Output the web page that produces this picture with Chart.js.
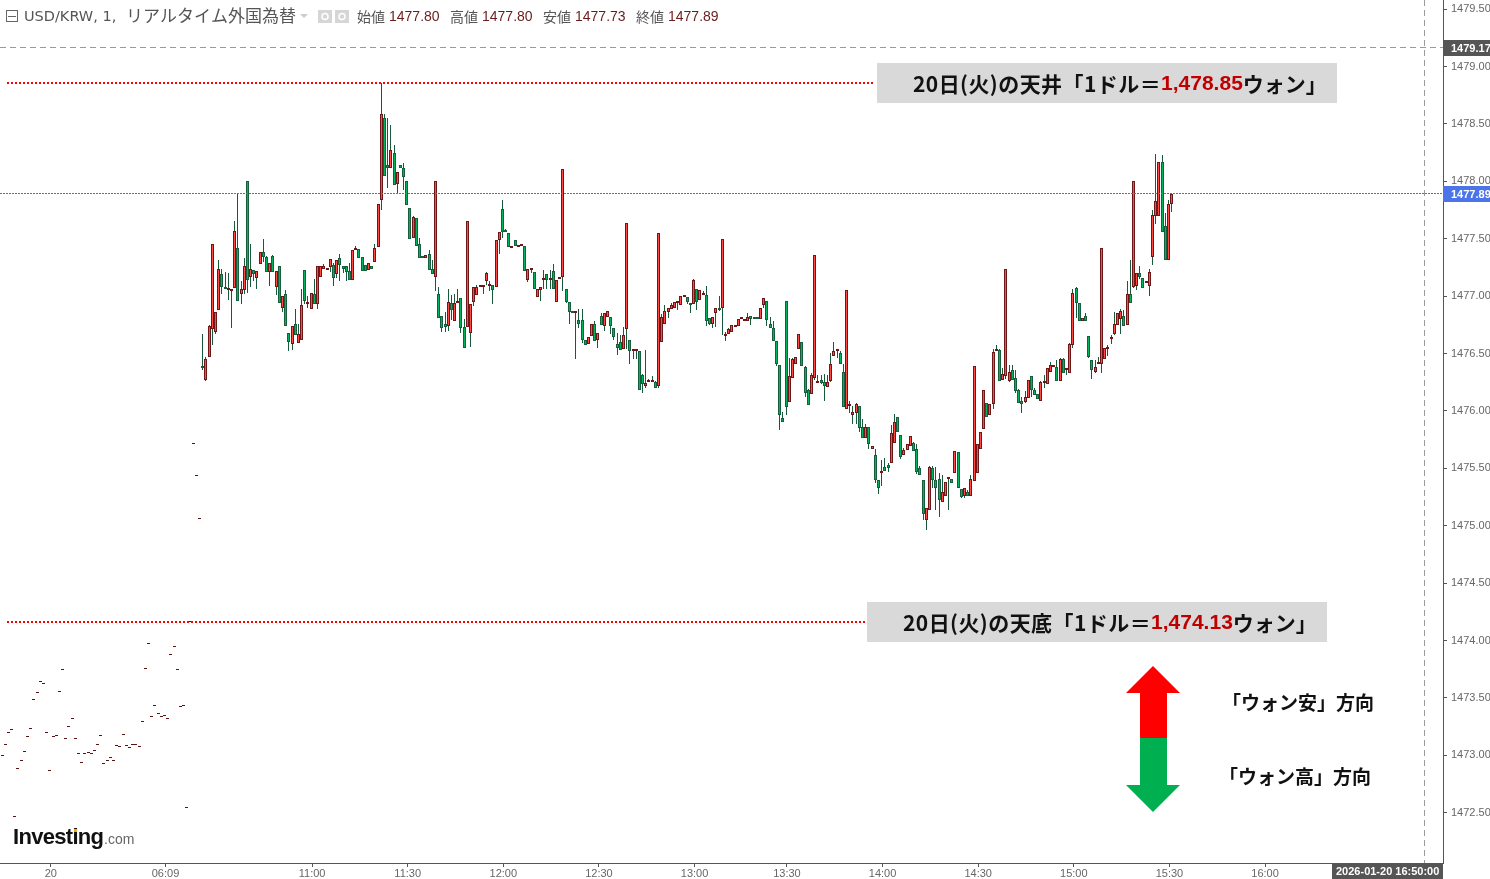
<!DOCTYPE html>
<html>
<head>
<meta charset="utf-8">
<title>USD/KRW</title>
<script src="https://cdn.jsdelivr.net/npm/chart.js@4"></script>
<style>
  html, body { margin: 0; padding: 0; background: #fff; }
  canvas { display: block; }
</style>
</head>
<body>
<canvas id="out" width="1490" height="879"></canvas>
<script>
// sparse quotes before the session really starts, one tick each
const preClose = [
  1472.99,1473.09,1473.19,1473.22,1472.46,1472.88,1472.95,1473.03,1473.16,1473.23,
  1473.48,1473.54,1473.64,1473.62,1473.19,1472.86,1473.16,1473.17,1473.55,1473.74,
  1473.14,1473.25,1473.32,1473.14,1473.01,1472.93,1473.01,1473.02,1473.01,1473.04,
  1473.09,1473.17,1472.92,1472.95,1472.98,1472.95,1473.08,1473.07,1473.18,1473.08,
  1473.06,1473.09,1473.09,1473.07,1473.29,1473.75,1473.97,1473.33,1473.43,1473.36,
  1473.33,1473.34,1473.32,1473.87,1473.94,1473.74,1473.42,1473.43,1472.54,1474.16,
  1475.71,1475.43,1475.06
];

const open = [
  1476.38,1476.27,1476.47,1476.71,1476.69,1476.88,1477.19,1477.08,1477.05,1477.04,
  1477.07,1477.42,1477.02,1477.05,1478.00,1477.17,1477.23,1477.16,1477.28,1477.38,
  1477.34,1477.21,1477.35,1477.08,1477.26,1476.90,1477.02,1476.68,1476.58,1476.76,
  1476.59,1476.62,1477.23,1476.93,1476.89,1477.02,1476.93,1477.17,1477.24,1477.23,
  1477.25,1477.27,1477.19,1477.33,1477.26,1477.26,1477.22,1477.14,1477.40,1477.41,
  1477.34,1477.27,1477.23,1477.26,1477.30,1477.43,1477.84,1478.55,1478.14,1478.12,
  1478.25,1477.98,1478.14,1478.12,1478.00,1477.77,1477.51,1477.68,1477.45,1477.35,
  1477.33,1477.37,1477.24,1477.17,1477.02,1476.83,1476.76,1476.74,1476.94,1476.78,
  1476.94,1476.98,1476.73,1476.73,1476.68,1476.95,1477.01,1477.08,1477.08,1477.13,
  1477.09,1477.10,1477.08,1477.49,1477.76,1477.57,1477.55,1477.42,1477.49,1477.43,
  1477.44,1477.44,1477.14,1477.23,1477.21,1476.99,1477.05,1477.14,1477.19,1477.14,
  1477.22,1476.95,1477.15,1477.17,1477.06,1476.95,1476.86,1476.85,1476.79,1476.79,
  1476.62,1476.58,1476.65,1476.76,1476.62,1476.83,1476.74,1476.82,1476.82,1476.72,
  1476.58,1476.60,1476.54,1476.71,1476.62,1476.52,1476.52,1476.52,1476.31,1476.22,
  1476.25,1476.25,1476.25,1476.22,1476.60,1476.76,1476.86,1476.89,1476.90,1476.94,
  1476.92,1476.99,1476.99,1476.93,1476.93,1477.06,1476.97,1477.01,1477.01,1476.81,
  1476.76,1476.85,1476.90,1476.90,1476.65,1476.67,1476.69,1476.73,1476.74,1476.80,
  1476.78,1476.78,1476.83,1476.81,1476.81,1476.80,1476.92,1476.96,1476.76,1476.72,
  1476.61,1476.40,1475.94,1476.96,1476.08,1476.29,1476.41,1476.54,1476.60,1476.38,
  1476.18,1476.15,1476.29,1476.24,1476.27,1476.25,1476.21,1476.26,1476.48,1476.52,
  1476.50,1476.34,1476.02,1476.04,1475.96,1475.98,1476.04,1475.86,1475.76,1475.86,
  1475.67,1475.62,1475.40,1475.46,1475.51,1475.53,1475.55,1475.72,1475.95,1475.79,
  1475.62,1475.66,1475.69,1475.72,1475.67,1475.50,1475.40,1475.05,1475.14,1475.50,
  1475.40,1475.41,1475.21,1475.26,1475.41,1475.41,1475.46,1475.64,1475.32,1475.26,
  1475.29,1475.26,1475.39,1475.46,1475.67,1475.84,1476.07,1475.96,1476.06,1476.52,
  1476.53,1476.27,1476.30,1476.26,1476.36,1476.29,1476.18,1476.09,1476.08,1476.11,
  1476.30,1476.18,1476.15,1476.09,1476.24,1476.23,1476.34,1476.38,1476.38,1476.26,
  1476.45,1476.36,1476.33,1476.57,1477.07,1476.94,1476.78,1476.83,1476.65,1476.44,
  1476.34,1476.41,1476.41,1476.45,1476.54,1476.63,1476.67,1476.75,1476.80,1476.83,
  1476.75,1477.02,1477.08,1477.09,1477.20,1477.16,1477.11,1477.09,1477.34,1477.70,
  1477.70,1478.17,1477.61,1477.31,1477.80
];

const high = [
  1476.67,1476.47,1476.75,1477.45,1476.86,1477.31,1477.24,1477.21,1477.20,1477.05,
  1477.65,1477.89,1477.13,1477.33,1478.00,1477.45,1477.23,1477.22,1477.38,1477.50,
  1477.35,1477.29,1477.36,1477.22,1477.26,1477.00,1477.05,1476.68,1476.74,1476.89,
  1476.76,1477.06,1477.23,1477.00,1477.03,1477.15,1477.26,1477.26,1477.28,1477.24,
  1477.32,1477.29,1477.31,1477.37,1477.26,1477.26,1477.29,1477.40,1477.44,1477.41,
  1477.34,1477.27,1477.29,1477.26,1477.45,1477.80,1478.86,1478.59,1478.55,1478.49,
  1478.32,1478.08,1478.14,1478.16,1478.00,1477.77,1477.70,1477.68,1477.51,1477.35,
  1477.36,1477.40,1477.31,1478.00,1477.08,1476.83,1476.86,1477.06,1477.01,1477.02,
  1477.06,1476.98,1476.80,1477.65,1476.93,1477.08,1477.10,1477.09,1477.10,1477.21,
  1477.13,1477.10,1477.49,1477.56,1477.84,1477.58,1477.55,1477.43,1477.49,1477.44,
  1477.45,1477.44,1477.24,1477.24,1477.21,1477.06,1477.08,1477.23,1477.19,1477.23,
  1477.28,1477.14,1477.16,1478.11,1477.06,1476.95,1476.86,1476.86,1476.89,1476.89,
  1476.62,1476.64,1476.76,1476.78,1476.68,1476.85,1476.85,1476.87,1476.82,1476.72,
  1476.68,1476.66,1476.73,1477.64,1476.62,1476.53,1476.53,1476.52,1476.32,1476.53,
  1476.28,1476.30,1476.26,1477.55,1476.84,1476.92,1476.90,1476.94,1476.95,1476.95,
  1477.00,1477.00,1476.99,1476.93,1477.15,1477.06,1477.05,1477.04,1477.09,1476.81,
  1476.82,1476.90,1477.00,1477.50,1476.69,1476.72,1476.75,1476.74,1476.80,1476.81,
  1476.79,1476.85,1476.83,1476.81,1476.81,1476.90,1476.98,1476.96,1476.82,1476.78,
  1476.61,1476.40,1475.99,1476.96,1476.46,1476.46,1476.47,1476.67,1476.60,1476.39,
  1476.19,1476.33,1477.36,1476.31,1476.31,1476.32,1476.31,1476.50,1476.60,1476.53,
  1476.52,1476.41,1477.05,1476.09,1476.04,1476.07,1476.04,1475.93,1475.89,1475.86,
  1475.69,1475.67,1475.40,1475.57,1475.59,1475.55,1475.88,1475.97,1475.95,1475.79,
  1475.68,1475.71,1475.78,1475.73,1475.71,1475.52,1475.40,1475.15,1475.52,1475.52,
  1475.51,1475.46,1475.44,1475.38,1475.42,1475.41,1475.65,1475.64,1475.32,1475.33,
  1475.31,1475.44,1476.39,1475.71,1475.82,1476.18,1476.07,1476.06,1476.54,1476.57,
  1476.54,1476.37,1477.24,1476.40,1476.40,1476.36,1476.19,1476.12,1476.17,1476.27,
  1476.30,1476.20,1476.15,1476.26,1476.31,1476.37,1476.43,1476.40,1476.44,1476.46,
  1476.46,1476.37,1476.59,1477.06,1477.08,1476.94,1476.81,1476.85,1476.65,1476.44,
  1476.44,1476.47,1477.42,1476.55,1476.57,1476.66,1476.86,1476.85,1476.89,1476.88,
  1477.13,1477.31,1478.00,1477.20,1477.26,1477.16,1477.12,1477.24,1477.75,1478.24,
  1478.17,1478.23,1477.72,1477.84,1477.89
];

const low = [
  1476.36,1476.26,1476.47,1476.57,1476.67,1476.88,1477.02,1477.06,1476.97,1476.72,
  1477.07,1476.96,1476.93,1477.02,1477.03,1477.08,1477.13,1477.06,1477.28,1477.30,
  1477.21,1477.09,1477.21,1477.01,1476.94,1476.86,1476.74,1476.52,1476.53,1476.66,
  1476.59,1476.62,1476.93,1476.90,1476.89,1476.93,1476.89,1477.17,1477.24,1477.23,
  1477.21,1477.09,1477.16,1477.13,1477.20,1477.13,1477.14,1477.14,1477.40,1477.33,
  1477.22,1477.22,1477.23,1477.24,1477.30,1477.43,1477.75,1478.05,1477.94,1478.12,
  1477.97,1477.90,1478.12,1477.92,1477.79,1477.50,1477.51,1477.44,1477.33,1477.33,
  1477.33,1477.23,1477.19,1477.04,1476.81,1476.69,1476.69,1476.70,1476.79,1476.78,
  1476.94,1476.68,1476.55,1476.73,1476.56,1476.91,1477.01,1477.08,1477.02,1477.10,
  1477.04,1476.93,1477.08,1477.37,1477.51,1477.56,1477.43,1477.42,1477.44,1477.43,
  1477.44,1477.22,1477.12,1477.20,1477.06,1476.99,1476.96,1477.06,1477.06,1477.06,
  1477.06,1476.95,1477.15,1477.04,1476.94,1476.76,1476.85,1476.45,1476.72,1476.59,
  1476.57,1476.58,1476.65,1476.61,1476.55,1476.75,1476.70,1476.82,1476.67,1476.62,
  1476.49,1476.53,1476.54,1476.54,1476.41,1476.45,1476.45,1476.18,1476.16,1476.20,
  1476.25,1476.25,1476.20,1476.20,1476.60,1476.76,1476.81,1476.89,1476.90,1476.88,
  1476.92,1476.99,1476.93,1476.85,1476.93,1476.88,1476.97,1477.01,1476.74,1476.75,
  1476.72,1476.73,1476.87,1476.66,1476.61,1476.67,1476.69,1476.73,1476.74,1476.80,
  1476.78,1476.78,1476.75,1476.80,1476.80,1476.80,1476.90,1476.74,1476.72,1476.61,
  1476.39,1475.83,1475.90,1475.96,1476.08,1476.29,1476.41,1476.54,1476.39,1476.12,
  1476.05,1476.15,1476.27,1476.24,1476.23,1476.09,1476.21,1476.25,1476.48,1476.46,
  1476.41,1476.03,1476.02,1475.98,1475.89,1475.89,1475.82,1475.76,1475.76,1475.67,
  1475.67,1475.37,1475.28,1475.35,1475.48,1475.47,1475.55,1475.72,1475.82,1475.58,
  1475.62,1475.66,1475.69,1475.65,1475.45,1475.44,1475.05,1474.96,1475.14,1475.33,
  1475.14,1475.08,1475.21,1475.26,1475.14,1475.37,1475.46,1475.33,1475.24,1475.24,
  1475.26,1475.26,1475.39,1475.46,1475.67,1475.84,1475.95,1475.96,1476.02,1476.52,
  1476.26,1476.27,1476.28,1476.25,1476.27,1476.16,1476.07,1475.98,1476.07,1476.11,
  1476.12,1476.14,1476.10,1476.09,1476.20,1476.23,1476.34,1476.38,1476.26,1476.26,
  1476.33,1476.31,1476.33,1476.55,1476.81,1476.78,1476.78,1476.78,1476.46,1476.28,
  1476.33,1476.41,1476.33,1476.45,1476.48,1476.58,1476.66,1476.75,1476.67,1476.74,
  1476.75,1476.94,1477.07,1477.05,1477.15,1477.07,1477.11,1477.00,1477.27,1477.63,
  1477.70,1477.56,1477.31,1477.31,1477.73
];

const close = [
  1476.37,1476.45,1476.74,1477.45,1476.86,1477.24,1477.08,1477.06,1477.06,1477.05,
  1477.57,1476.96,1477.06,1477.26,1477.14,1477.24,1477.19,1477.22,1477.38,1477.34,
  1477.21,1477.29,1477.21,1477.22,1476.94,1477.00,1476.74,1476.60,1476.74,1476.66,
  1476.67,1476.92,1476.96,1476.94,1477.03,1476.93,1477.26,1477.26,1477.26,1477.24,
  1477.32,1477.16,1477.31,1477.27,1477.24,1477.21,1477.14,1477.40,1477.42,1477.33,
  1477.22,1477.22,1477.29,1477.24,1477.42,1477.80,1478.59,1478.05,1478.12,1478.27,
  1477.97,1478.08,1478.12,1478.04,1477.79,1477.50,1477.69,1477.44,1477.33,1477.33,
  1477.36,1477.23,1477.19,1478.00,1476.81,1476.72,1476.73,1476.95,1476.88,1476.94,
  1476.96,1476.72,1476.55,1477.65,1476.93,1477.08,1477.08,1477.09,1477.10,1477.20,
  1477.10,1477.05,1477.49,1477.56,1477.56,1477.56,1477.43,1477.43,1477.44,1477.44,
  1477.45,1477.22,1477.24,1477.24,1477.06,1477.06,1477.08,1477.15,1477.14,1477.15,
  1477.06,1477.14,1477.16,1478.11,1476.95,1476.86,1476.85,1476.86,1476.76,1476.62,
  1476.57,1476.64,1476.76,1476.61,1476.68,1476.75,1476.85,1476.87,1476.74,1476.64,
  1476.55,1476.53,1476.66,1477.64,1476.52,1476.53,1476.53,1476.18,1476.23,1476.24,
  1476.26,1476.26,1476.20,1477.55,1476.82,1476.87,1476.90,1476.92,1476.95,1476.95,
  1477.00,1477.00,1476.95,1476.92,1477.14,1476.95,1477.05,1477.02,1476.78,1476.76,
  1476.82,1476.90,1476.88,1477.50,1476.66,1476.71,1476.75,1476.74,1476.80,1476.81,
  1476.79,1476.82,1476.80,1476.80,1476.80,1476.90,1476.98,1476.79,1476.72,1476.61,
  1476.41,1475.96,1475.90,1476.03,1476.30,1476.45,1476.47,1476.67,1476.39,1476.16,
  1476.05,1476.31,1477.36,1476.25,1476.24,1476.22,1476.25,1476.41,1476.52,1476.53,
  1476.41,1476.03,1477.05,1476.05,1475.99,1476.06,1475.85,1475.76,1475.86,1475.71,
  1475.69,1475.40,1475.33,1475.47,1475.48,1475.50,1475.81,1475.90,1475.82,1475.60,
  1475.66,1475.71,1475.78,1475.65,1475.47,1475.44,1475.10,1475.15,1475.51,1475.40,
  1475.33,1475.22,1475.29,1475.38,1475.42,1475.37,1475.65,1475.33,1475.25,1475.33,
  1475.26,1475.41,1476.39,1475.71,1475.82,1476.18,1475.95,1476.06,1476.51,1476.54,
  1476.26,1476.32,1477.24,1476.34,1476.27,1476.17,1476.07,1476.06,1476.12,1476.27,
  1476.18,1476.14,1476.10,1476.25,1476.25,1476.37,1476.40,1476.40,1476.26,1476.45,
  1476.33,1476.37,1476.58,1477.03,1476.94,1476.78,1476.81,1476.78,1476.47,1476.36,
  1476.38,1476.43,1477.42,1476.55,1476.55,1476.64,1476.76,1476.85,1476.87,1476.74,
  1477.02,1476.94,1478.00,1477.20,1477.17,1477.07,1477.12,1477.21,1477.71,1477.83,
  1478.17,1477.56,1477.31,1477.80,1477.89
];

const priceTicks = [1479.5,1479,1478.5,1478,1477.5,1477,1476.5,1476,1475.5,1475,1474.5,1474,1473.5,1473,1472.5];
const timeTickBars = [15.3,51.3,97.3,127.3,157.3,187.3,217.3,246.3,276.3,306.3,336.3,366.3,396.3];
const timeTickLabels = ["20","06:09","11:00","11:30","12:00","12:30","13:00","13:30","14:00","14:30","15:00","15:30","16:00"];

const ceilingPrice = 1478.856;
const floorPrice = 1474.165;
const crossPrice = 1479.165;
const crossLabel = "1479.17";
const crossBar = 446.3;
const lastPrice = 1477.89;
const lastLabel = "1477.89";

const headLabels = ["始値","高値","安値","終値"];
const headValues = ["1477.80","1477.80","1477.73","1477.89"];

const UP_FILL = "#ff4b45", UP_EDGE = "#701616";
const DOWN_FILL = "#00b45e", DOWN_EDGE = "#14603c";
const WICK = "#17593a";
const FONT_UI = '"Liberation Sans", "Noto Sans CJK JP", sans-serif';
const FONT_JP = '"Noto Sans CJK JP", sans-serif';

const firstBar = preClose.length;
const isUp = open.map((o, i) => close[i] >= o);

function text(ctx, str, x, y, font, color, align) {
  ctx.font = font;
  ctx.fillStyle = color;
  ctx.textAlign = align || "left";
  ctx.textBaseline = "middle";
  ctx.fillText(str, x, y);
}

function runs(ctx, parts, x, y) {
  parts.forEach(p => {
    ctx.font = p[2];
    ctx.letterSpacing = p[3] || "0px";
    text(ctx, p[0], x, y, p[2], p[1]);
    x += ctx.measureText(p[0]).width;
    ctx.letterSpacing = "0px";
  });
}

function hLine(ctx, y, x0, x1, color, dash, width) {
  ctx.save();
  ctx.strokeStyle = color;
  ctx.lineWidth = width;
  ctx.setLineDash(dash);
  ctx.beginPath();
  const yy = width % 2 ? Math.floor(y) + 0.5 : Math.round(y);
  ctx.moveTo(x0, yy);
  ctx.lineTo(x1, yy);
  ctx.stroke();
  ctx.restore();
}

function poly(ctx, pts, color) {
  ctx.fillStyle = color;
  ctx.beginPath();
  pts.forEach((p, i) => i ? ctx.lineTo(p[0], p[1]) : ctx.moveTo(p[0], p[1]));
  ctx.closePath();
  ctx.fill();
}

// snap bars to whole pixels, the original is drawn crisp
const snapBars = {
  id: "snapBars",
  beforeDatasetsDraw(chart) {
    chart.getSortedVisibleDatasetMetas().forEach(meta => {
      if (meta.type !== "bar") return;
      const ds = chart.data.datasets[meta.index];
      meta.data.forEach(el => {
        el.x = Math.floor(el.x) + 0.5;
        el.width = ds.snapWidth;
        const top = Math.round(Math.min(el.y, el.base));
        let bottom = Math.round(Math.max(el.y, el.base));
        if (bottom - top < ds.snapHeight) bottom = top + ds.snapHeight;
        el.y = top;
        el.base = bottom;
        el.height = bottom - top;
      });
    });
  }
};

const guides = {
  id: "guides",
  afterDatasetsDraw(chart) {
    const ctx = chart.ctx;
    const xs = chart.scales.x, ys = chart.scales.y;
    const right = chart.chartArea.right, bottom = chart.chartArea.bottom;

    hLine(ctx, ys.getPixelForValue(crossPrice), 0, right, "#9a9a9a", [6, 4], 1);
    hLine(ctx, ys.getPixelForValue(lastPrice), 0, right, "#4a6fd8", [2, 1], 1);
    const cx = Math.floor(xs.getPixelForValue(crossBar)) + 0.5;
    ctx.save();
    ctx.strokeStyle = "#9a9a9a";
    ctx.setLineDash([6, 4]);
    ctx.beginPath();
    ctx.moveTo(cx, 0);
    ctx.lineTo(cx, bottom);
    ctx.stroke();
    ctx.restore();

    hLine(ctx, ys.getPixelForValue(ceilingPrice), 7, 875, "#ff0000", [2, 2], 2);
    hLine(ctx, ys.getPixelForValue(floorPrice), 7, 867, "#ff0000", [2, 2], 2);
  },
  afterDraw(chart) {
    const ctx = chart.ctx;
    const ys = chart.scales.y;
    ctx.save();

    // header row
    ctx.strokeStyle = "#666";
    ctx.strokeRect(6.5, 10.5, 11, 11);
    ctx.beginPath();
    ctx.moveTo(8, 16.5);
    ctx.lineTo(16, 16.5);
    ctx.stroke();
    text(ctx, "USD/KRW, 1, ", 24, 17, "14.5px \"DejaVu Sans\"", "#555");
    text(ctx, "リアルタイム外国為替", 126, 16, "17px " + FONT_JP, "#555");
    poly(ctx, [[300, 14], [308, 14], [304, 18]], "#ccc");
    ctx.fillStyle = "#d6d6d6";
    ctx.fillRect(318, 10, 14, 13);
    ctx.fillRect(335, 10, 14, 13);
    ctx.strokeStyle = "#fff";
    ctx.lineWidth = 1.5;
    ctx.beginPath();
    ctx.arc(325, 16.5, 3, 0, Math.PI * 2);
    ctx.moveTo(345, 16.5);
    ctx.arc(342, 16.5, 3, 0, Math.PI * 2);
    ctx.stroke();
    ctx.lineWidth = 1;
    headLabels.forEach((lab, i) => {
      const x = 357 + i * 93;
      text(ctx, lab, x, 17, "14px " + FONT_JP, "#555");
      text(ctx, headValues[i], x + 32, 17, "14px " + FONT_UI, "#6a1c1c");
    });

    // note boxes
    ctx.fillStyle = "#d9d9d9";
    ctx.fillRect(877, 63, 460, 40);
    ctx.fillRect(867, 602, 460, 40);
    const noteFont = "bold 21px " + FONT_JP;
    const numFont = "bold 21px \"Liberation Sans\"";
    runs(ctx, [["20日(火)の天井「1ドル＝", "#111", noteFont, "0.43px"], ["1,478.85", "#c00000", numFont], ["ウォン」", "#111", noteFont]], 913, 84);
    runs(ctx, [["20日(火)の天底「1ドル＝", "#111", noteFont, "0.43px"], ["1,474.13", "#c00000", numFont], ["ウォン」", "#111", noteFont]], 903, 623);

    // direction arrows
    poly(ctx, [[1153, 666], [1180, 693], [1167, 693], [1167, 738], [1140, 738], [1140, 693], [1126, 693]], "#ff0000");
    poly(ctx, [[1153, 812], [1180, 785], [1167, 785], [1167, 738], [1140, 738], [1140, 785], [1126, 785]], "#00b050");
    text(ctx, "「ウォン安」方向", 1222, 703, "bold 19px " + FONT_JP, "#111");
    text(ctx, "「ウォン高」方向", 1219, 777, "bold 19px " + FONT_JP, "#111");

    // logo
    ctx.letterSpacing = "-0.7px";
    text(ctx, "Investing", 13, 838, "bold 22px " + FONT_UI, "#111");
    ctx.letterSpacing = "0px";
    text(ctx, ".com", 104, 840, "14px " + FONT_UI, "#666");
    ctx.fillStyle = "#f5a623";
    ctx.fillRect(74, 829, 3, 3);

    // axis badges
    const badge = (price, label, color) => {
      const y = Math.round(ys.getPixelForValue(price));
      ctx.fillStyle = color;
      ctx.fillRect(1443, y - 8, 47, 16);
      text(ctx, label, 1451, y + 0.5, "bold 11px " + FONT_UI, "#fff");
    };
    badge(crossPrice, crossLabel, "#555555");
    badge(lastPrice, lastLabel, "#4a74e8");
    ctx.fillStyle = "#555555";
    ctx.fillRect(1332, 863, 111, 16);
    text(ctx, "2026-01-20 16:50:00", 1336, 871.5, "bold 11px " + FONT_UI, "#fff");
    ctx.restore();
  }
};

const bars = values => values.map((v, i) => ({ x: firstBar + i, y: v }));
const bodySpan = open.map((o, i) => [o, close[i]]);
const wickSpan = low.map((l, i) => [l, high[i]]);

new Chart(document.getElementById("out").getContext("2d"), {
  type: "bar",
  data: {
    datasets: [
      {
        label: "body",
        data: bars(bodySpan),
        backgroundColor: isUp.map(u => u ? UP_FILL : DOWN_FILL),
        borderColor: isUp.map(u => u ? UP_EDGE : DOWN_EDGE),
        borderWidth: 1,
        borderSkipped: false,
        inflateAmount: 0,
        grouped: false,
        minBarLength: 2,
        snapWidth: 3,
        snapHeight: 2
      },
      {
        label: "wick",
        data: bars(wickSpan),
        backgroundColor: WICK,
        borderWidth: 0,
        inflateAmount: 0,
        grouped: false,
        minBarLength: 1,
        snapWidth: 1,
        snapHeight: 1
      },
      {
        label: "pre",
        data: preClose.map((p, i) => ({ x: i, y: [p, p] })),
        backgroundColor: "#5a1212",
        borderWidth: 0,
        inflateAmount: 0,
        grouped: false,
        minBarLength: 1,
        snapWidth: 3,
        snapHeight: 1
      }
    ]
  },
  plugins: [snapBars, guides],
  options: {
    responsive: false,
    animation: false,
    events: [],
    layout: { padding: 0 },
    plugins: { legend: { display: false }, tooltip: { enabled: false } },
    scales: {
      x: {
        type: "linear",
        offset: false,
        min: -0.63,
        max: 452.14,
        afterFit: s => { s.height = 16; s.paddingLeft = 0; s.paddingRight = 0; },
        afterBuildTicks: s => { s.ticks = timeTickBars.map(v => ({ value: v })); },
        border: { color: "#555", width: 1 },
        grid: { drawOnChartArea: false, offset: false, tickLength: 4, tickColor: "#555" },
        ticks: {
          autoSkip: false,
          maxRotation: 0,
          padding: 0,
          color: "#666",
          font: { family: FONT_UI, size: 11 },
          callback: v => timeTickLabels[timeTickBars.indexOf(v)]
        }
      },
      y: {
        position: "right",
        min: 1472.062,
        max: 1479.579,
        afterFit: s => { s.width = 47; s.paddingTop = 0; s.paddingBottom = 0; },
        afterBuildTicks: s => { s.ticks = priceTicks.map(v => ({ value: v })); },
        border: { color: "#555", width: 1 },
        grid: { drawOnChartArea: false, tickLength: 4, tickColor: "#555" },
        ticks: {
          padding: 4,
          color: "#666",
          font: { family: FONT_UI, size: 11 },
          callback: v => v.toFixed(2)
        }
      }
    }
  }
});
</script>
</body>
</html>
